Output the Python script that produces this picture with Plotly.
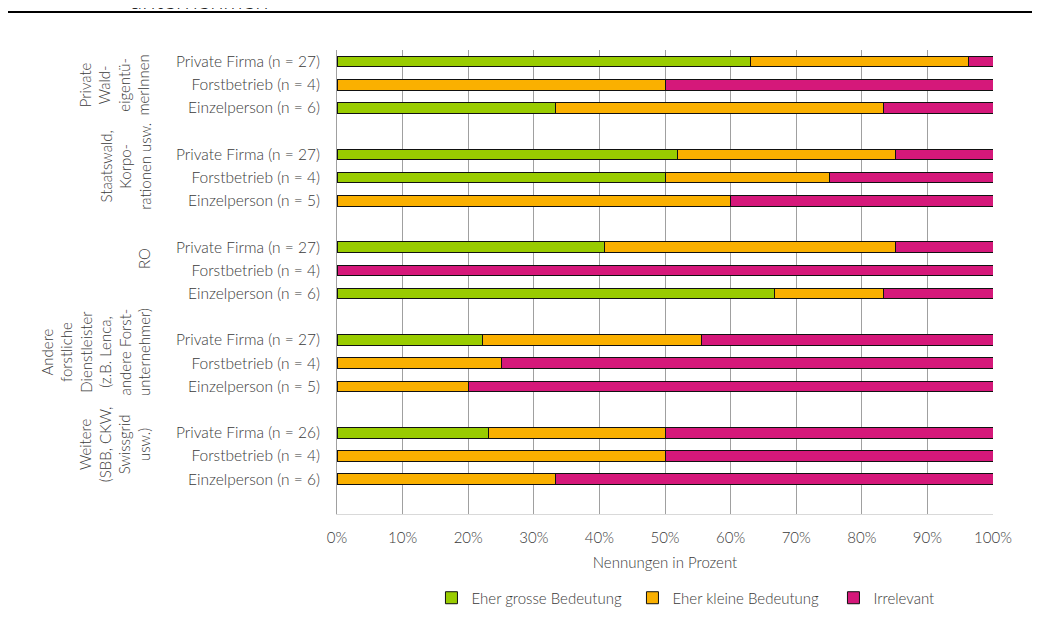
import plotly.graph_objects as go

GREEN = "#99CC00"
ORANGE = "#FAB000"
PINK = "#D5187A"
TEXT = "#3a3a3a"
FONT = "Lato"

groups = [
    "Private<br>Wald-<br>eigentü-<br>merInnen",
    "Staatswald,<br>Korpo-<br>rationen usw.",
    "RO",
    "Andere<br>forstliche<br>Dienstleister<br>(z.B. Lenca,<br>andere Forst-<br>unternehmer)",
    "Weitere<br>(SBB, CKW,<br>Swissgrid<br>usw.)",
]
actors = ["Private Firma", "Forstbetrieb", "Einzelperson"]

# number of answers per group and actor
n_total = [
    [27, 4, 6],
    [27, 4, 5],
    [27, 4, 6],
    [27, 4, 5],
    [26, 4, 6],
]
n_gross = [
    [17, 0, 2],
    [14, 2, 0],
    [11, 0, 4],
    [6, 0, 0],
    [6, 0, 0],
]
n_klein = [
    [9, 2, 3],
    [9, 1, 3],
    [12, 0, 1],
    [9, 1, 1],
    [7, 2, 2],
]
n_irrelevant = [
    [1, 2, 1],
    [4, 1, 2],
    [4, 4, 1],
    [12, 3, 4],
    [13, 2, 4],
]
series = [
    ("Eher grosse Bedeutung", n_gross, GREEN),
    ("Eher kleine Bedeutung", n_klein, ORANGE),
    ("Irrelevant", n_irrelevant, PINK),
]

# row positions: 3 bars per group, one empty row between groups
rows, labels, group_rows = [], [], []
r = 0
for g, n_list in enumerate(n_total):
    start = r
    for a, n in enumerate(n_list):
        rows.append(r)
        labels.append(f"{actors[a]} (n = {n})")
        r += 1
    group_rows.append((start - (1 if g > 0 else 0) + r - 1) / 2)
    r += 1
n_rows = r - 1

fig = go.Figure()
for name, counts, color in series:
    x = []
    for g, n_list in enumerate(n_total):
        for a, n in enumerate(n_list):
            x.append(counts[g][a] / n)
    fig.add_trace(go.Bar(
        x=x,
        y=rows,
        name=name,
        orientation="h",
        width=0.45,
        marker=dict(color=color, line=dict(color="#111111", width=1)),
    ))

for g, label in enumerate(groups):
    fig.add_annotation(
        x=-0.277, y=group_rows[g], xref="paper", yref="y",
        text=label, textangle=-90, showarrow=False,
        xanchor="right", yanchor="middle", align="center",
        font=dict(size=15, color=TEXT, weight=300),
    )

# cut-off title and rule at the top
fig.add_annotation(
    x=-0.32, y=1.0742, xref="paper", yref="paper",
    text="unternehmen", showarrow=False, xanchor="left", yanchor="bottom",
    font=dict(size=24, color="#222222"),
)
fig.add_shape(
    type="line", xref="paper", yref="paper",
    x0=-0.505, x1=1.072, y0=1.082, y1=1.082,
    line=dict(color="black", width=2),
)

fig.update_layout(
    barmode="stack",
    width=1040,
    height=625,
    plot_bgcolor="white",
    paper_bgcolor="white",
    font=dict(family=FONT, size=14, color=TEXT, weight=300),
    margin=dict(l=329, r=55, t=42, b=119),
    xaxis=dict(
        range=[0, 1],
        dtick=0.1,
        tickformat=".0%",
        showgrid=True,
        gridcolor="#a0a0a0",
        gridwidth=1,
        zeroline=False,
        showline=True,
        linecolor="#d9d9d9",
        ticks="",
        ticklabelstandoff=10,
        tickfont=dict(size=15, color=TEXT, weight=300),
        title=dict(text="Nennungen in Prozent", font=dict(size=15, color=TEXT, weight=300), standoff=12),
    ),
    yaxis=dict(
        range=[n_rows + 0.5, -0.5],
        tickvals=rows,
        ticktext=labels,
        showgrid=False,
        zeroline=False,
        showline=True,
        linecolor="#a0a0a0",
        ticks="",
        ticklabelstandoff=13,
        tickfont=dict(size=15.5, color=TEXT, weight=300),
    ),
    legend=dict(
        orientation="h",
        x=0.144, xanchor="left",
        y=-0.181, yanchor="middle",
        entrywidth=156,
        font=dict(size=15, color=TEXT, weight=300),
        traceorder="normal",
    ),
    showlegend=True,
)

fig.write_html("out.html")
